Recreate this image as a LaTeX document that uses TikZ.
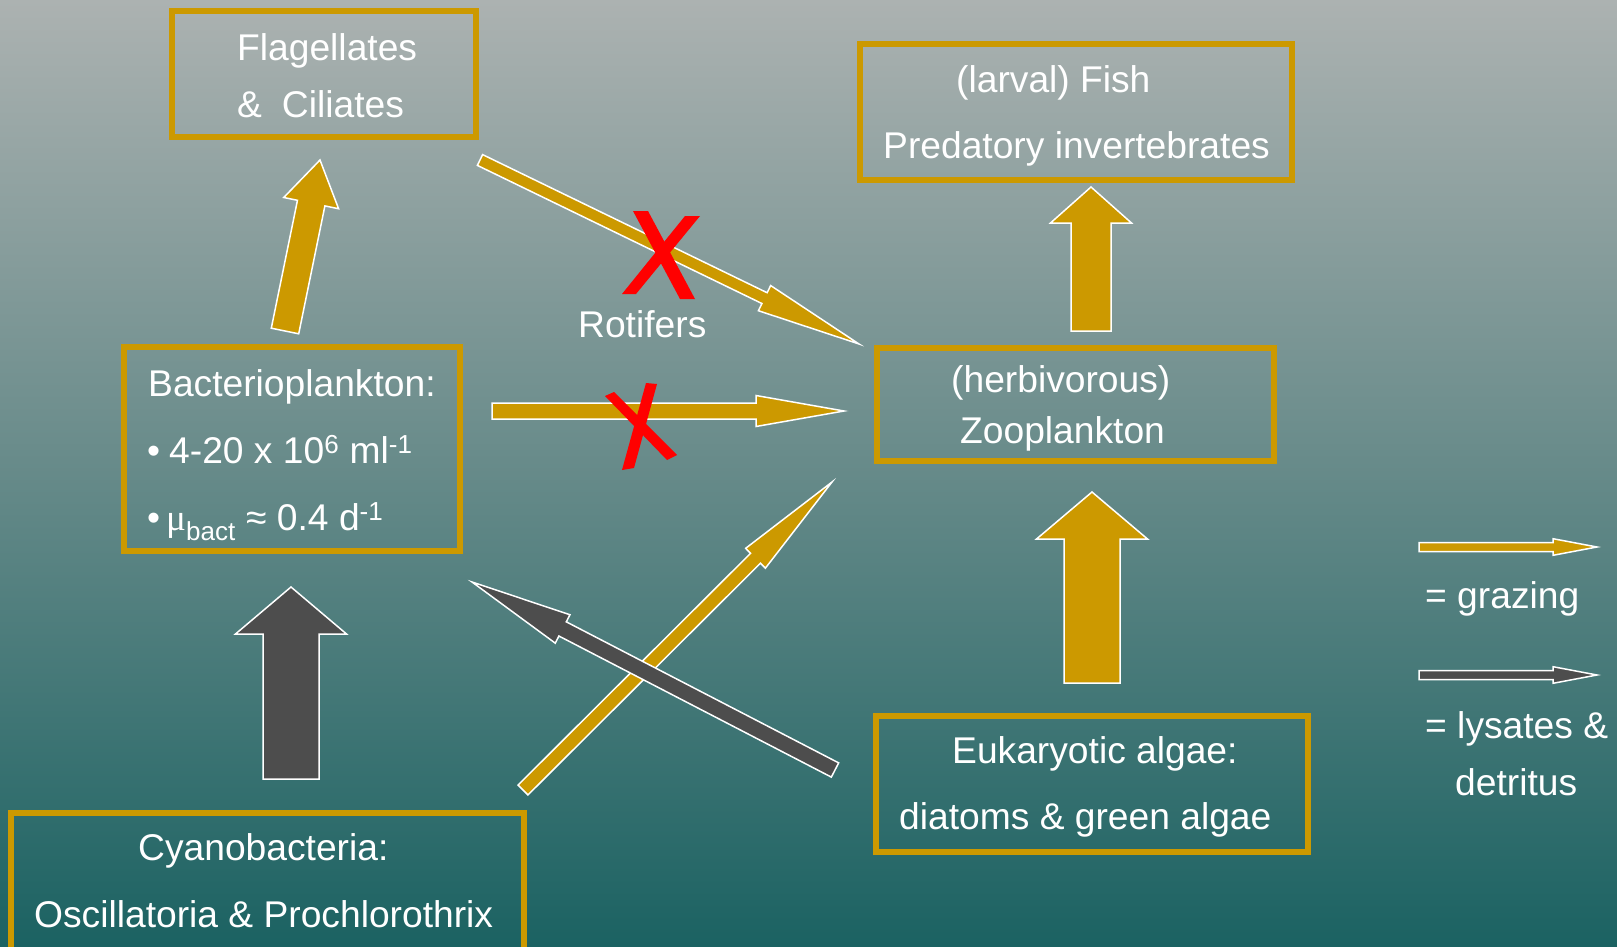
\documentclass[tikz,border=0pt]{standalone}
\usepackage{fontspec}
\setmainfont{Liberation Sans}
\newfontfamily\muface{Liberation Serif}
\definecolor{gold}{RGB}{204,153,0}
\definecolor{darkarrow}{RGB}{77,77,77}
\definecolor{bgtop}{RGB}{172,178,177}
\definecolor{bgmid}{RGB}{102,138,137}
\definecolor{bgbot}{RGB}{27,98,98}
\tikzset{
  box/.style={draw=gold, line width=5.5pt, rectangle, inner sep=0pt},
  lbl/.style={text=white, font=\fontsize{37.2}{44}\selectfont, inner sep=0pt, anchor=base west},
  blockarrow/.style={draw=white, line width=1.5pt, line join=miter},
  redx/.style={fill=red, draw=none}
}
\newcommand\barrow[6]{%
  \pgfpointanchor{#2}{center}\pgfgetlastxy{\bax}{\bay}%
  \pgfpointanchor{#3}{center}\pgfgetlastxy{\bbx}{\bby}%
  \pgfmathsetmacro\baang{atan2((\bby)-(\bay),(\bbx)-(\bax))}%
  \pgfmathsetmacro\balen{veclen((\bbx)-(\bax),(\bby)-(\bay))}%
  \pgfmathsetmacro\babase{\balen-#6}%
  \begin{scope}[shift={(#2)},rotate=\baang]
    \filldraw[blockarrow,fill=#1] (0,-#4) -- (\babase,-#4) -- (\babase,-#5) -- (\balen,0) -- (\babase,#5) -- (\babase,#4) -- (0,#4) -- cycle;
  \end{scope}}
\begin{document}
\begin{tikzpicture}[x=1pt,y=-1pt]
\useasboundingbox (0,0) rectangle (1617,947);
\shade[top color=bgtop, bottom color=bgbot, middle color=bgmid] (0,0) rectangle (1617,947);

% boxes
\node[box, minimum width=304, minimum height=126] (flag) at (324,74) {};
\node[box, minimum width=432, minimum height=136] (fish) at (1076,112) {};
\node[box, minimum width=336, minimum height=204] (bact) at (292,449) {};
\node[box, minimum width=397, minimum height=113] (zoo) at (1075.5,404.5) {};
\node[box, minimum width=432, minimum height=136] (euk) at (1092,784) {};
\node[box, minimum width=513, minimum height=142] (cyano) at (267.5,884) {};

% arrow end points
\coordinate (aFs) at (285,331);  \coordinate (aFe) at (320,160);
\coordinate (aBs) at (291,779);  \coordinate (aBe) at (291,587);
\coordinate (aPs) at (1091,331); \coordinate (aPe) at (1091,187);
\coordinate (aZs) at (1092,683); \coordinate (aZe) at (1092,492);
\coordinate (aEs) at (480,160);  \coordinate (aEe) at (859,344);
\coordinate (aHs) at (492,411);  \coordinate (aHe) at (844,411);
\coordinate (aGs) at (523,790);  \coordinate (aGe) at (832,482);
\coordinate (aLs) at (835,770);  \coordinate (aLe) at (472,582);
\coordinate (lg1s) at (1419,547); \coordinate (lg1e) at (1597,547);
\coordinate (lg2s) at (1419,675); \coordinate (lg2e) at (1597,675);

\barrow{gold}{aFs}{aFe}{14}{28}{44}
\barrow{darkarrow}{aBs}{aBe}{28}{55.5}{47}
\barrow{gold}{aPs}{aPe}{20}{40.5}{36}
\barrow{gold}{aZs}{aZe}{28}{55.5}{47}
\barrow{gold}{aEs}{aEe}{6}{14}{105}
\barrow{gold}{aHs}{aHe}{8}{15.5}{88}
\barrow{gold}{aGs}{aGe}{7}{14}{108}
\barrow{darkarrow}{aLs}{aLe}{8}{16}{102}
\barrow{gold}{lg1s}{lg1e}{4.5}{8.3}{44}
\barrow{darkarrow}{lg2s}{lg2e}{4.5}{8.3}{44}

% red crosses
\fill[redx] (633,211) -- (648,211) -- (695,299) -- (680,299) -- cycle;
\fill[redx] (685,216) -- (700,216) -- (636,294) -- (622,294) -- cycle;
\fill[redx] (605,396) -- (614,392) -- (677,455) -- (667,460) -- cycle;
\fill[redx] (646,383) -- (657,384) -- (634,468) -- (622,470) -- cycle;

% texts
\node[lbl] (t1) at (237,61) {Flagellates};
\node[lbl] (t2) at (237,118) {\&\hspace{20pt}Ciliates};
\node[lbl] (t3) at (956,93) {(larval) Fish};
\node[lbl] (t4) at (883,158) {Predatory invertebrates};
\node[lbl] (t5) at (148,396) {Bacterioplankton:};
\node[lbl] (t6) at (147,463) {•\hspace{9pt}4-20 x 10\textsuperscript{6} ml\textsuperscript{-1}};
\node[lbl] (t7) at (147,530) {•\hspace{6pt}{\muface μ}\textsubscript{bact} ≈ 0.4 d\textsuperscript{-1}};
\node[lbl] (t8) at (951,392) {(herbivorous)};
\node[lbl] (t9) at (960,443) {Zooplankton};
\node[lbl] (t10) at (952,763) {Eukaryotic algae:};
\node[lbl] (t11) at (899,829) {diatoms \& green algae};
\node[lbl] (t12) at (138,860) {Cyanobacteria:};
\node[lbl] (t13) at (34,927) {Oscillatoria \& Prochlorothrix};
\node[lbl] (t14) at (578,337) {Rotifers};
\node[lbl] (t15) at (1425,608) {= grazing};
\node[lbl] (t16) at (1425,738) {= lysates \&};
\node[lbl] (t17) at (1455,795) {detritus};
\end{tikzpicture}
\end{document}
